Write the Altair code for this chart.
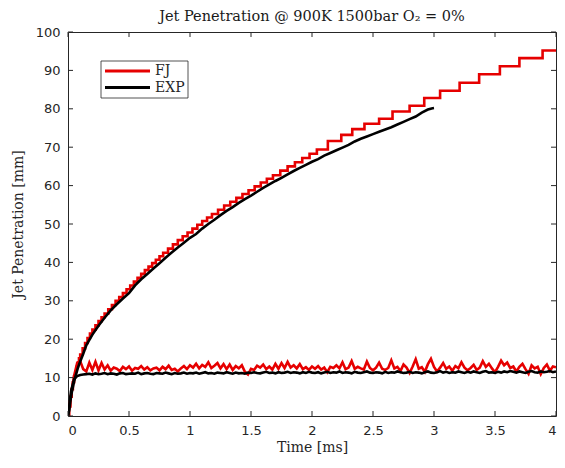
import altair as alt
import pandas as pd

SERIES = ["FJ", "EXP"]
COLORS = ["#e60000", "#000000"]
TITLE = "Jet Penetration @ 900K 1500bar O\u2082 = 0%"
X_TITLE = "Time [ms]"
Y_TITLE = "Jet Penetration [mm]"

# FJ penetration (stair-stepped, step-after)
FJ_PEN_T = [0.000, 0.010, 0.020, 0.030, 0.040, 0.050, 0.060, 0.070, 0.080, 0.090,
            0.100, 0.120, 0.140, 0.160, 0.180, 0.200, 0.225, 0.250, 0.275, 0.300,
            0.330, 0.360, 0.390, 0.420, 0.450, 0.480, 0.51, 0.54, 0.57, 0.60,
            0.63, 0.66, 0.69, 0.72, 0.75, 0.78, 0.82, 0.86, 0.90, 0.94,
            0.98, 1.02, 1.06, 1.10, 1.14, 1.18, 1.23, 1.28, 1.33, 1.38,
            1.43, 1.48, 1.53, 1.58, 1.63, 1.68, 1.74, 1.80, 1.86, 1.92,
            1.98, 2.04, 2.13, 2.24, 2.33, 2.43, 2.55, 2.66, 2.80, 2.92,
            3.05, 3.21, 3.37, 3.54, 3.70, 3.89, 4.00]
FJ_PEN_V = [0.0, 2.5, 5.0, 7.0, 8.8, 10.3, 11.6, 12.8, 13.9, 15.0,
            16.0, 17.6, 19.0, 20.3, 21.5, 22.5, 23.6, 24.7, 25.7, 26.7,
            27.8, 28.9, 30.0, 31.0, 32.0, 33.0, 34.0, 35.0, 36.0, 37.0,
            38.0, 38.9, 39.8, 40.7, 41.6, 42.5, 43.6, 44.7, 45.8, 46.8,
            47.8, 48.8, 49.8, 50.8, 51.7, 52.6, 53.7, 54.8, 55.8, 56.8,
            57.8, 58.8, 59.8, 60.8, 61.8, 62.7, 63.9, 65.0, 66.1, 67.2,
            68.3, 69.4, 71.6, 73.2, 74.7, 76.1, 77.4, 79.3, 80.8, 82.8,
            84.7, 86.8, 89.0, 91.1, 93.2, 95.2, 95.2]

# EXP penetration
EXP_PEN_T = [0.00, 0.01, 0.02, 0.03, 0.04, 0.05, 0.06, 0.07, 0.08, 0.10,
             0.125, 0.15, 0.175, 0.20, 0.25, 0.30, 0.35, 0.40, 0.45, 0.50,
             0.55, 0.60, 0.65, 0.70, 0.75, 0.80, 0.85, 0.90, 0.95, 1.00,
             1.05, 1.10, 1.15, 1.20, 1.25, 1.30, 1.35, 1.40, 1.45, 1.50,
             1.55, 1.60, 1.65, 1.70, 1.75, 1.80, 1.85, 1.90, 1.95, 2.00,
             2.05, 2.10, 2.15, 2.20, 2.25, 2.30, 2.35, 2.40, 2.45, 2.50,
             2.55, 2.60, 2.65, 2.70, 2.75, 2.80, 2.85, 2.90, 2.95, 2.98, 3.00]
EXP_PEN_V = [0.0, 1.5, 4.0, 6.0, 7.5, 9.0, 10.2, 11.3, 12.4, 14.2,
             16.2, 18.4, 19.8, 21.2, 23.5, 25.6, 27.5, 29.1, 30.6, 32.0,
             34.0, 35.6, 37.0, 38.4, 39.8, 41.2, 42.6, 43.9, 45.1, 46.4,
             47.4, 48.8, 50.0, 51.1, 52.3, 53.4, 54.4, 55.5, 56.5, 57.4,
             58.4, 59.4, 60.3, 61.2, 62.0, 62.9, 63.8, 64.6, 65.4, 66.2,
             66.9, 67.8, 68.5, 69.2, 69.9, 70.6, 71.5, 72.2, 72.8, 73.4,
             74.0, 74.6, 75.2, 75.9, 76.6, 77.3, 78.0, 79.0, 79.8, 80.1, 80.2]

# liquid lengths, sampled every 0.025 ms from 0 to 4 ms
LL_DT = 0.025
FJ_LL = [0, 5.5, 10.5, 13.8, 14.3, 12.2, 11.6, 13.9, 12.0, 14.1,
         11.9, 13.8, 12.1, 13.2, 11.8, 12.6, 12.3, 11.7, 12.8, 12.2,
         12.9, 11.8, 12.5, 12.3, 13.0, 12.1, 12.7, 11.9, 12.4, 12.6,
         11.9, 12.8, 12.2, 13.1, 12.0, 12.3, 11.6, 12.4, 13.0, 12.2,
         13.2, 12.6, 13.6, 12.4, 13.3, 12.8, 14.0, 12.5, 13.1, 13.8,
         12.4, 13.5, 12.2, 13.4, 12.0, 13.0, 12.4, 13.2, 11.5, 10.8,
         12.3, 12.0, 13.1, 12.6, 13.4, 12.2, 12.9, 12.1, 13.6, 12.3,
         13.8, 12.5, 14.1, 12.6, 13.2, 12.4, 13.5, 12.2, 12.7, 12.0,
         12.9, 12.3, 13.0, 12.1, 12.6, 11.4, 12.8, 12.5, 13.2, 12.4,
         14.0, 12.2, 12.6, 14.3, 12.3, 12.8, 12.4, 12.1, 14.2, 12.5,
         11.9, 12.6, 13.9, 12.3, 12.0, 12.5, 14.5, 12.4, 12.8, 11.7,
         13.4, 12.6, 11.2, 12.9, 14.8, 12.3, 12.7, 11.5, 13.5, 14.9,
         12.8, 11.6, 12.6, 13.8, 12.3, 12.9, 11.8, 13.0, 12.4, 14.0,
         12.6, 11.9, 12.5, 13.3, 12.0, 12.6, 14.3, 12.8, 13.6, 12.4,
         11.4, 12.8, 14.4, 13.2, 13.9, 12.5, 12.9, 11.6, 12.8, 13.6,
         12.2, 11.0, 13.2, 12.4, 12.8, 10.9, 12.5, 13.4, 11.8, 12.9,
         12.7]
EXP_LL = [0, 6.5, 9.6, 10.4, 10.7, 10.8,
          10.9, 11.0, 10.8, 11.1, 10.9, 11.0, 11.2, 10.9, 11.1, 11.0, 10.8, 11.1, 11.2, 10.9, 11.0,
          11.1, 11.0, 11.3, 10.9, 11.1, 11.2, 11.0, 10.9, 11.2, 11.1, 11.0, 11.3, 11.1, 10.9, 11.2, 11.0, 11.1, 11.3, 11.0, 11.2,
          11.1, 11.3, 11.0, 11.2, 11.4, 11.1, 11.2, 11.0, 11.3, 11.2, 11.1, 11.4, 11.2, 11.0, 11.3, 11.1, 11.2, 11.0, 11.3, 11.2,
          11.4, 11.2, 11.1, 11.3, 11.5, 11.2, 11.3, 11.1, 11.4, 11.2, 11.3, 11.5, 11.2, 11.4, 11.3, 11.1, 11.4, 11.2, 11.5, 11.3,
          11.2, 11.4, 11.1, 11.3, 11.5, 11.2, 11.4, 11.3, 11.6, 11.2, 11.4, 11.3, 11.1, 11.5, 11.3, 11.2, 11.4, 11.6, 11.3, 11.2,
          11.4, 11.3, 11.1, 11.5, 11.2, 11.4, 11.3, 11.6, 11.4, 11.2, 11.3, 11.5, 11.2, 11.4, 11.3, 11.1, 11.4, 11.6, 11.3, 11.2,
          11.4, 11.7, 11.3, 11.5, 11.2, 11.4, 11.3, 11.6, 11.4, 11.2, 11.5, 11.3, 11.6, 11.4, 11.2, 11.5, 11.7, 11.3, 11.4, 11.2,
          11.5, 11.3, 11.6, 11.4, 11.7, 11.5, 11.3, 11.6, 11.4, 11.2, 11.5, 11.7, 11.4, 11.3, 11.6, 11.4, 11.5, 11.7, 11.4, 11.6]

X_TICKS = [0, 0.5, 1, 1.5, 2, 2.5, 3, 3.5, 4]
Y_TICKS = [0, 10, 20, 30, 40, 50, 60, 70, 80, 90, 100]

W, H = 488, 384
AX = "#262626"
SERIF = "DejaVu Serif"
SANS = "DejaVu Sans"


def frame(t, v, s):
    return pd.DataFrame({"t": t, "v": v, "series": s})


def ll_times(vals):
    return [round(i * LL_DT, 4) for i in range(len(vals))]


xs = alt.Scale(domain=[0, 4], nice=False, zero=False)
ys = alt.Scale(domain=[0, 100], nice=False)
cs = alt.Scale(domain=SERIES, range=COLORS)

x_axis = alt.Axis(values=X_TICKS, format="~g", title=X_TITLE, ticks=False, domain=False, grid=False,
                  labelFont=SANS, labelFontSize=13, labelColor=AX, labelPadding=8,
                  titleFont=SERIF, titleFontSize=14, titleFontWeight="normal", titleColor=AX,
                  titleX=W / 2, titleY=31, titleBaseline="middle")
y_axis = alt.Axis(values=Y_TICKS, title=Y_TITLE, ticks=False, domain=False, grid=False,
                  labelFont=SANS, labelFontSize=13, labelColor=AX, labelPadding=8,
                  titleFont=SERIF, titleFontSize=14, titleFontWeight="normal", titleColor=AX,
                  titleX=-50, titleY=H / 2, titleBaseline="middle", titleAngle=-90)

X = alt.X("t:Q", scale=xs, axis=x_axis)
Y = alt.Y("v:Q", scale=ys, axis=y_axis)


def line(df, interp):
    return alt.Chart(df).mark_line(strokeWidth=2.6, interpolate=interp, clip=True).encode(
        x=X, y=Y, color=alt.Color("series:N", scale=cs, legend=None),
    )


fj_pen = line(frame(FJ_PEN_T, FJ_PEN_V, SERIES[0]), "step-after")
fj_ll = line(frame(ll_times(FJ_LL), FJ_LL, SERIES[0]), "linear")
exp_ll = line(frame(ll_times(EXP_LL), EXP_LL, SERIES[1]), "linear")
exp_pen = line(frame(EXP_PEN_T, EXP_PEN_V, SERIES[1]), "linear")

xt = pd.DataFrame({"t": X_TICKS})
yt = pd.DataFrame({"v": Y_TICKS})
tick_b = alt.Chart(xt).mark_rule(color=AX, strokeWidth=1).encode(
    x=X, y=alt.value(H), y2=alt.value(H - 5))
tick_t = alt.Chart(xt).mark_rule(color=AX, strokeWidth=1).encode(
    x=X, y=alt.value(0), y2=alt.value(5))
tick_l = alt.Chart(yt).mark_rule(color=AX, strokeWidth=1).encode(
    y=Y, x=alt.value(0), x2=alt.value(5))
tick_r = alt.Chart(yt).mark_rule(color=AX, strokeWidth=1).encode(
    y=Y, x=alt.value(W), x2=alt.value(W - 5))

one = pd.DataFrame({"a": [0]})
leg_box = alt.Chart(one).mark_rect(fill="white", stroke=AX, strokeWidth=0.8).encode(
    x=alt.value(33), x2=alt.value(120), y=alt.value(29), y2=alt.value(66))
leg_l1 = alt.Chart(one).mark_rule(color=COLORS[0], strokeWidth=3).encode(
    x=alt.value(37), x2=alt.value(82), y=alt.value(39))
leg_l2 = alt.Chart(one).mark_rule(color=COLORS[1], strokeWidth=3).encode(
    x=alt.value(37), x2=alt.value(82), y=alt.value(55.5))
leg_t1 = alt.Chart(one).mark_text(align="left", baseline="middle", font=SERIF, fontSize=14, color=AX).encode(
    x=alt.value(87), y=alt.value(39), text=alt.value(SERIES[0]))
leg_t2 = alt.Chart(one).mark_text(align="left", baseline="middle", font=SERIF, fontSize=14, color=AX).encode(
    x=alt.value(87), y=alt.value(55.5), text=alt.value(SERIES[1]))

chart = alt.layer(
    fj_pen, fj_ll, exp_ll, exp_pen,
    tick_b, tick_t, tick_l, tick_r,
    leg_box, leg_l1, leg_l2, leg_t1, leg_t2,
).properties(
    width=W, height=H,
    title=alt.TitleParams(TITLE, font=SERIF, fontSize=14.5, fontWeight="normal", color="#1a1a1a",
                          offset=2, anchor="middle", frame="group"),
    autosize=alt.AutoSizeParams(type="none"),
    padding={"left": 60, "top": 24, "right": 1, "bottom": 39},
    background="white",
).configure_view(stroke=AX, strokeWidth=1)

chart.save("out.html", embed_options={"renderer": "svg", "actions": False})
